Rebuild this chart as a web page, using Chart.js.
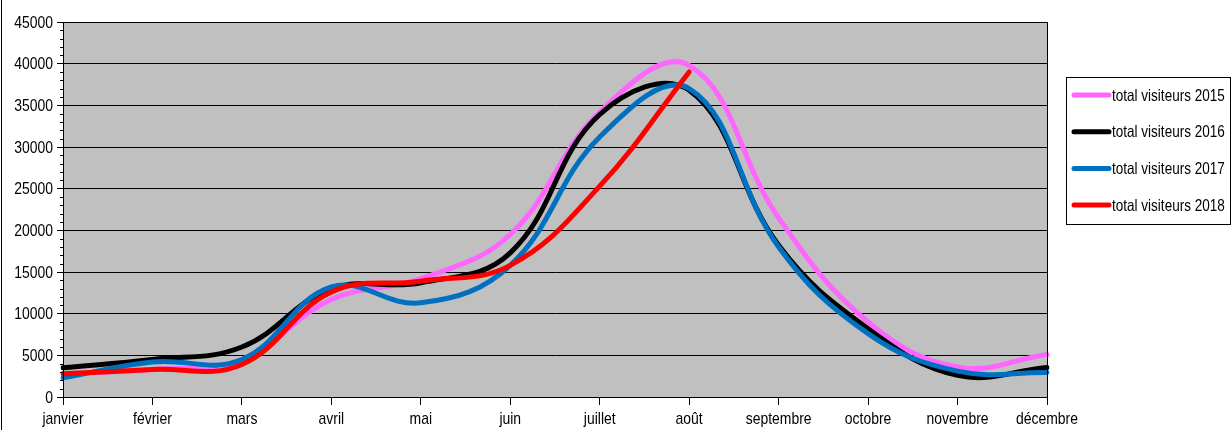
<!DOCTYPE html>
<html lang="fr">
<head>
  <meta charset="UTF-8" />
  <title>Visiteurs par mois</title>
  <script src="https://cdn.jsdelivr.net/npm/chart.js"></script>
  <style>
    html,body { margin:0; padding:0; background:#fff; }
    #wrap     { width:1231px; height:430px; }
  </style>
</head>
<body>
<div id="wrap"><canvas id="visitChart" width="1231" height="430"></canvas></div>

<script>
  /* ---------- data ---------- */
  const months = ['janvier','février','mars','avril','mai','juin',
                  'juillet','août','septembre','octobre','novembre','décembre'];
  const visits2015 = [2800, 3300, 4500, 11700, 14200, 19500, 34200, 39800, 21500, 9000, 3600, 5100];
  const visits2016 = [3500, 4500, 6000, 13000, 13700, 17300, 33900, 36800, 18200, 8200, 2600, 3550];
  const visits2017 = [2300, 4200, 4500, 13200, 11300, 15800, 31200, 37000, 18000, 7600, 3100, 2950];
  const visits2018 = [2800, 3300, 3900, 12600, 13900, 15800, 25300, 39000, null, null, null, null];
  const yTicks = { min:0, max:45000, step:5000, minor:1000 };

  // no narrow font installed -> squeeze Liberation Sans horizontally
  const FONT = "'Liberation Sans',Arial,sans-serif";
  const SQUEEZE = 0.82;

  const narrowText = (ctx, txt, x, y, align) => {
    ctx.save();
    ctx.translate(x, y);
    ctx.scale(SQUEEZE, 1);
    ctx.textAlign = align;
    ctx.fillText(txt, 0, 0);
    ctx.restore();
  };

  /* ---------- plugins ---------- */
  const plotBg = {
    id:'plotBg',
    beforeDraw(chart){
      const {ctx, chartArea:a} = chart;
      ctx.save();
      ctx.fillStyle = '#c0c0c0';
      ctx.fillRect(a.left, a.top, a.right-a.left, a.bottom-a.top);
      ctx.restore();
    },
    afterDraw(chart){
      const {ctx, chartArea:a, scales:{x, y}} = chart;
      ctx.save();
      ctx.strokeStyle = '#000'; ctx.lineWidth = 1;
      ctx.strokeRect(a.left+0.5, a.top+0.5, a.right-a.left, a.bottom-a.top);
      // minor ticks on the y axis
      ctx.beginPath();
      for (let v = yTicks.min; v <= yTicks.max; v += yTicks.minor) {
        if (v % yTicks.step === 0) continue;
        const py = Math.round(y.getPixelForValue(v)) + 0.5;
        ctx.moveTo(a.left-3, py); ctx.lineTo(a.left, py);
      }
      ctx.stroke();
      // outer frame edge on the left
      ctx.beginPath(); ctx.moveTo(1.5, 0); ctx.lineTo(1.5, chart.height); ctx.stroke();

      // tick labels, condensed
      ctx.fillStyle = '#000';
      ctx.font = '17px ' + FONT;
      ctx.textBaseline = 'middle';
      y.ticks.forEach((t, i) => narrowText(ctx, String(t.value), a.left-10, y.getPixelForTick(i)+1, 'right'));
      ctx.textBaseline = 'alphabetic';
      x.ticks.forEach((t, i) => narrowText(ctx, months[t.value], x.getPixelForTick(i), 424, 'center'));
      ctx.restore();
    }
  };

  const boxLegend = {
    id:'boxLegend',
    afterDraw(chart){
      const ctx = chart.ctx;
      const x0 = 1066, y0 = 77, w = 164, h = 147;
      ctx.save();
      ctx.fillStyle = '#fff';
      ctx.fillRect(x0, y0, w, h);
      ctx.strokeStyle = '#000'; ctx.lineWidth = 1;
      ctx.strokeRect(x0+0.5, y0+0.5, w, h);
      ctx.font = '16.5px ' + FONT;
      ctx.textBaseline = 'middle';
      ctx.fillStyle = '#000';
      chart.data.datasets.forEach((ds, i) => {
        const ly = 95 + i*36.7;
        ctx.strokeStyle = ds.borderColor;
        ctx.lineWidth = 5; ctx.lineCap = 'round';
        ctx.beginPath(); ctx.moveTo(1074, ly); ctx.lineTo(1109, ly); ctx.stroke();
        narrowText(ctx, ds.label, 1112, ly+1, 'left');
      });
      ctx.restore();
    }
  };

  /* ---------- chart ---------- */
  const line = (label, data, color, order) => ({
    label, data, borderColor:color, backgroundColor:color,
    borderWidth:5, pointRadius:0, tension:0.4, fill:false, order,
    borderCapStyle:'round', borderJoinStyle:'round'
  });

  new Chart(document.getElementById('visitChart'), {
    type:'line',
    data:{
      labels: months,
      datasets:[
        line('total visiteurs 2015', visits2015, '#ff66ff', 3),
        line('total visiteurs 2016', visits2016, '#000000', 2),
        line('total visiteurs 2017', visits2017, '#0070c0', 1),
        line('total visiteurs 2018', visits2018, '#ff0000', 0)
      ]
    },
    options:{
      responsive:false, animation:false,
      layout:{ padding:{ left:0, right:184, top:22, bottom:0 } },
      plugins:{ legend:{ display:false }, tooltip:{ enabled:false }, title:{ display:false } },
      scales:{
        x:{
          offset:false,
          grid:{ drawOnChartArea:false, drawTicks:true, tickLength:8, color:'#000' },
          border:{ display:true, color:'#000' },
          ticks:{ color:'rgba(0,0,0,0)', padding:1, maxRotation:0, autoSkip:false, font:{ family:FONT, size:14 } },
          afterFit(s){ s.height = 33; }
        },
        y:{
          min:yTicks.min, max:yTicks.max,
          grid:{ color:'#000', tickLength:6 },
          border:{ display:true, color:'#000' },
          ticks:{ stepSize:yTicks.step, color:'rgba(0,0,0,0)', padding:4, font:{ family:FONT, size:14 } },
          afterFit(s){ s.width = 63; }
        }
      }
    },
    plugins:[plotBg, boxLegend]
  });
</script>
</body>
</html>
